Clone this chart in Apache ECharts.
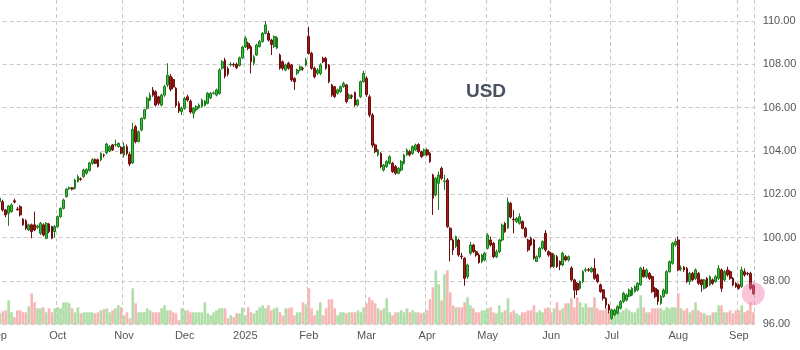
<!DOCTYPE html>
<html><head><meta charset="utf-8">
<script src="https://cdn.jsdelivr.net/npm/echarts@6/dist/echarts.min.js"></script>
<style>html,body{margin:0;padding:0;background:#fff}#c{width:800px;height:350px}</style>
</head><body><div id="c"></div>
<script>
// ---- categories: trading days (weekdays, market holidays removed) ----
const startDate = '2024-09-02';
const endDate = '2025-09-08';
const holidays = ['2024-12-25', '2025-01-01', '2025-04-18'];
const monthNames = ['Jan','Feb','Mar','Apr','May','Jun','Jul','Aug','Sep','Oct','Nov','Dec'];
const yTicks = [96, 98, 100, 102, 104, 106, 108, 110];
const titleText = 'USD';

// ---- series values (index order = trading days) ----
const openP = [
101.60,101.66,101.66,101.28,101.12,101.20,101.70,101.32,101.43,100.85,
100.78,100.35,100.59,100.59,100.48,100.20,100.59,99.97,100.63,100.51,
100.28,100.51,100.97,101.35,101.89,102.26,102.30,102.28,102.58,102.72,
102.82,102.98,103.10,103.43,103.60,103.60,103.59,103.82,103.92,104.00,
104.28,104.28,104.20,104.17,103.82,104.20,103.85,103.45,105.12,104.43,
104.97,105.50,105.97,106.35,106.82,106.73,106.50,106.12,106.58,107.05,
107.45,107.30,106.90,106.20,105.82,105.97,106.50,106.30,105.74,105.90,
106.00,106.05,106.10,106.20,106.45,106.66,106.58,106.66,107.82,108.20,
107.80,107.97,108.00,108.00,107.95,108.30,108.80,108.97,108.81,108.05,
108.43,108.82,109.05,109.43,109.43,109.12,108.82,108.75,108.43,108.12,
107.74,108.05,107.97,107.35,107.59,107.74,107.82,107.97,109.28,108.51,
107.82,107.59,107.58,108.28,108.28,107.97,107.05,106.97,106.66,106.74,
106.97,107.05,106.43,106.55,106.70,106.12,106.51,107.20,107.35,106.50,
105.66,104.28,103.82,103.89,103.12,103.28,103.43,103.43,103.28,102.97,
103.12,103.43,103.82,103.97,103.89,104.05,104.30,103.97,103.82,104.05,
103.89,102.89,101.97,102.51,103.20,102.58,102.66,100.43,99.89,99.60,
99.89,99.15,99.05,98.20,99.28,99.66,99.35,99.20,98.89,98.97,
99.51,99.89,99.74,99.12,99.35,99.89,100.66,100.45,101.58,100.85,
100.74,100.66,100.74,100.43,99.89,99.97,99.89,98.90,99.12,99.51,
100.20,99.35,99.28,98.67,99.12,98.90,98.74,99.12,98.97,98.60,
98.05,97.89,97.66,97.97,98.50,98.52,98.43,98.58,98.28,97.82,
97.59,97.20,96.89,96.28,96.43,96.51,96.74,97.05,97.12,97.30,
97.35,97.51,97.58,97.82,98.51,98.20,98.35,98.20,97.66,97.58,
96.97,97.28,97.43,98.43,98.82,99.66,99.89,98.55,98.63,98.58,
97.97,98.35,98.12,98.35,98.05,97.66,98.12,97.82,98.05,97.98,
98.12,98.51,98.05,98.51,98.43,98.12,97.89,97.82,97.74,98.43,
98.35,98.35,97.80];
const closeP = [
101.75,101.82,101.28,101.05,101.46,101.51,101.64,101.28,101.05,100.59,
100.43,100.59,100.28,100.35,100.54,100.66,100.12,100.66,100.28,99.97,
100.51,100.97,101.35,101.74,102.23,102.30,102.24,102.66,102.82,102.69,
103.12,103.14,103.45,103.60,103.43,103.28,103.89,103.80,104.32,104.20,
104.05,104.30,104.35,103.90,104.23,103.88,103.40,105.00,104.43,104.89,
105.50,105.90,106.43,106.58,106.58,106.12,106.20,106.58,106.97,107.50,
106.85,106.95,106.10,105.85,105.97,106.43,106.35,105.80,105.97,106.05,
106.12,106.35,106.30,106.66,106.66,106.68,106.82,107.74,108.12,107.45,
107.55,108.00,107.97,107.85,108.30,108.80,109.20,108.74,108.12,108.35,
108.89,109.05,109.43,109.82,109.12,108.92,109.28,109.23,107.82,107.82,
107.97,107.82,107.28,107.20,107.74,107.89,107.80,108.20,108.50,107.82,
107.43,107.74,107.97,108.12,107.82,107.20,106.58,106.51,106.82,106.97,
107.12,106.28,106.58,106.51,106.12,106.35,107.20,107.58,106.60,105.66,
104.27,103.97,104.05,103.28,103.35,103.51,103.74,103.05,102.97,103.20,
103.51,103.82,104.05,103.82,104.20,104.28,103.97,103.74,104.05,103.82,
103.51,101.82,102.74,102.89,102.74,102.62,100.51,99.90,99.43,100.05,
99.20,99.12,98.12,98.74,99.66,99.35,99.20,98.85,99.20,99.28,
100.12,99.66,99.12,99.35,99.89,100.58,100.28,101.66,100.95,100.82,
100.89,100.97,100.43,100.05,99.43,99.66,99.05,99.12,99.51,99.82,
99.43,99.20,98.67,99.20,98.67,98.74,99.28,98.97,99.12,98.05,
97.58,97.58,97.97,98.43,98.52,98.50,98.58,98.12,97.97,97.51,
97.20,96.89,96.66,96.66,96.66,96.82,97.05,97.43,97.35,97.58,
97.66,97.74,97.89,98.59,98.20,98.51,98.12,97.51,97.28,97.05,
97.28,97.58,98.43,98.89,99.74,99.82,98.51,98.60,98.51,97.97,
98.35,98.05,98.51,97.89,97.82,98.05,97.74,98.20,97.89,98.20,
98.58,97.66,98.43,98.28,98.12,97.82,97.74,97.66,98.51,98.28,
98.33,97.66,97.41];
const lowP = [
101.50,101.60,101.20,100.95,100.54,101.15,101.58,101.26,100.98,100.55,
100.35,100.30,99.97,100.30,100.40,100.12,100.05,99.93,100.20,99.93,
100.00,100.45,100.92,101.30,101.85,102.20,102.18,102.22,102.55,102.62,
102.76,102.90,103.05,103.36,103.40,103.24,103.52,103.70,103.85,103.95,
104.00,104.20,104.15,103.85,103.70,103.80,103.30,103.40,104.35,104.40,
104.90,105.45,105.90,106.30,106.50,106.05,106.10,106.05,106.50,106.95,
106.75,106.85,106.00,105.75,105.66,105.90,106.28,105.72,105.50,105.82,
105.95,106.00,106.05,106.15,106.40,106.60,106.52,106.60,107.75,107.35,
107.45,107.90,107.88,107.78,107.90,108.25,108.75,108.65,107.58,107.95,
108.38,108.78,109.00,109.38,109.05,108.43,108.75,108.70,107.75,107.72,
107.68,107.75,107.20,106.82,107.50,107.68,107.70,107.90,108.45,107.75,
107.35,107.50,107.50,108.05,107.75,107.12,106.50,106.45,106.60,106.68,
106.92,106.20,106.38,106.40,106.05,106.05,106.45,107.15,106.50,105.55,
104.15,103.90,103.75,103.20,103.05,103.22,103.38,102.98,102.90,102.92,
103.05,103.38,103.76,103.75,103.82,104.00,103.90,103.68,103.76,103.76,
103.45,101.05,101.90,101.28,102.65,102.20,100.45,98.90,99.20,99.52,
99.12,99.00,97.78,98.10,99.20,99.28,99.12,98.80,98.82,98.90,
99.45,99.58,99.05,99.05,99.28,99.82,100.22,100.40,100.88,100.20,
100.68,100.60,100.38,99.98,99.35,99.60,98.98,98.88,99.05,99.45,
99.35,99.12,98.60,98.60,98.60,98.50,98.68,98.90,98.90,97.98,
97.20,97.35,97.60,97.90,98.40,98.42,98.38,98.05,97.90,97.45,
97.10,96.74,96.51,96.20,96.38,96.45,96.68,96.98,97.05,97.25,
97.30,97.45,97.52,97.78,98.15,98.12,98.05,97.45,97.20,96.90,
96.90,97.22,97.38,98.38,98.75,99.58,98.45,98.45,98.42,97.90,
97.82,97.98,98.05,97.82,97.50,97.60,97.68,97.76,97.82,97.92,
98.05,97.50,97.98,98.20,98.05,97.75,97.68,97.60,97.68,98.20,
98.25,97.58,97.35];
const highP = [
101.85,101.90,101.75,101.32,101.50,101.58,101.80,101.42,101.50,100.90,
100.85,100.65,100.65,101.20,100.60,100.72,100.66,100.72,100.68,100.55,
100.58,101.02,101.40,101.80,102.30,102.36,102.34,102.72,102.90,102.78,
103.18,103.20,103.50,103.66,103.66,103.65,103.94,103.88,104.38,104.28,
104.32,104.52,104.40,104.22,104.40,104.30,103.95,105.30,105.20,104.95,
105.55,105.95,106.50,106.70,106.95,106.80,106.55,106.65,107.05,108.05,
107.55,107.40,106.95,106.30,106.05,106.50,106.60,106.38,106.02,106.12,
106.20,106.42,106.36,106.72,106.72,106.75,106.88,107.82,108.20,108.30,
107.90,108.10,108.08,108.08,108.36,108.86,109.30,109.05,108.88,108.42,
108.95,109.12,109.50,110.00,109.55,109.18,109.34,109.30,108.50,108.18,
108.03,108.12,108.02,107.40,107.80,107.95,107.88,108.30,109.74,108.58,
107.90,107.82,108.05,108.35,108.35,108.02,107.10,107.00,106.88,107.02,
107.20,107.10,106.65,106.62,106.75,106.40,107.25,107.70,107.45,106.60,
105.75,104.35,104.10,103.95,103.40,103.58,103.80,103.50,103.35,103.26,
103.58,103.88,104.12,104.05,104.26,104.34,104.36,104.02,104.12,104.12,
103.95,102.95,102.80,103.05,103.28,102.90,102.75,100.50,99.95,100.10,
99.95,99.30,99.10,98.80,99.80,99.72,99.42,99.28,99.25,99.35,
100.20,100.05,99.80,99.45,99.95,100.65,100.72,101.85,101.65,101.28,
100.95,101.12,100.80,100.50,99.95,100.05,99.95,99.18,99.58,99.88,
100.35,99.42,99.35,99.28,99.20,98.95,99.35,99.20,99.18,98.68,
98.10,97.95,98.02,98.50,98.62,98.60,98.65,99.05,98.35,97.88,
97.62,97.25,96.95,96.72,96.72,96.88,97.12,97.50,97.42,97.65,
97.72,97.80,97.95,98.65,98.66,98.58,98.42,98.26,97.72,97.62,
97.35,97.65,98.50,98.95,99.80,99.95,100.05,98.72,98.70,98.65,
98.42,98.42,98.58,98.42,98.10,98.10,98.18,98.26,98.12,98.28,
98.74,98.58,98.50,98.66,98.50,98.18,97.95,97.88,98.66,98.58,
98.42,98.42,97.85];
const volume = [
110,110,130,140,240,120,70,140,140,120,
120,180,310,220,160,160,170,120,160,120,
160,170,160,220,220,210,160,120,170,110,
120,120,120,120,110,120,140,150,160,120,
140,160,190,170,90,120,60,360,210,120,
120,120,160,140,120,120,120,160,190,140,
140,120,110,40,160,140,140,120,120,120,
120,120,220,110,90,120,140,160,160,160,
60,90,70,110,110,170,90,170,120,110,
140,170,190,160,190,140,160,170,120,90,
160,160,170,90,120,120,220,200,360,160,
90,140,220,90,160,250,250,160,90,120,
120,110,120,120,120,140,120,170,210,270,
240,210,160,140,160,260,120,90,120,120,
140,120,160,120,140,120,120,110,120,140,
250,370,540,400,240,500,540,320,190,170,
170,170,220,270,190,160,120,120,140,140,
160,170,120,110,190,120,140,260,120,140,
110,90,120,120,140,140,190,120,140,120,
160,170,120,160,220,140,160,210,210,260,
170,270,220,170,210,170,170,270,160,140,
140,170,120,120,110,140,120,140,160,140,
120,120,160,290,170,120,120,160,160,160,
160,140,170,160,170,170,310,160,140,160,
120,140,220,140,120,110,90,90,120,120,
190,190,120,120,140,110,140,140,190,120,
140,220,120];

// ---- build categories ----
function tradingDays(s, e, skip) {
  const out = [];
  const [sy, sm, sd] = s.split('-').map(Number);
  const [ey, em, ed] = e.split('-').map(Number);
  let t = Date.UTC(sy, sm - 1, sd);
  const stop = Date.UTC(ey, em - 1, ed);
  while (t <= stop) {
    const d = new Date(t);
    const wd = d.getUTCDay();
    const iso = d.toISOString().slice(0, 10);
    if (wd !== 0 && wd !== 6 && skip.indexOf(iso) < 0) out.push(iso);
    t += 86400000;
  }
  return out;
}
const dates = tradingDays(startDate, endDate, holidays);
const last = dates.length - 1;

function isMonthStart(i) {
  return i === 0 || dates[i].slice(0, 7) !== dates[i - 1].slice(0, 7);
}
function monthLabel(v) {
  const m = parseInt(v.slice(5, 7), 10);
  return m === 1 ? v.slice(0, 4) : monthNames[m - 1];
}

const candles = dates.map((d, i) => [openP[i], closeP[i], lowP[i], highP[i]]);
const volData = dates.map((d, i) => ({
  value: volume[i],
  itemStyle: { color: closeP[i] >= openP[i] ? '#b0dea8' : '#f6b7b7' }
}));

const FONT = '"Liberation Sans", Arial, sans-serif';
const chart = echarts.init(document.getElementById('c'), null, { renderer: 'canvas' });
chart.setOption({
  animation: false,
  backgroundColor: '#ffffff',
  textStyle: { fontFamily: FONT },
  grid: { left: -4.35, right: 45.3, top: 0, bottom: 25.7, containLabel: false, outerBoundsMode: 'none' },
  xAxis: {
    type: 'category',
    data: dates,
    boundaryGap: true,
    axisLine: { show: false },
    axisTick: { show: false },
    axisLabel: {
      interval: (i) => isMonthStart(i),
      formatter: monthLabel,
      color: '#555',
      fontSize: 11,
      margin: 6,
      hideOverlap: false,
      fontFamily: FONT
    },
    splitLine: {
      show: true,
      interval: (i) => isMonthStart(i),
      lineStyle: { color: '#c8c8c8', type: [4, 3], width: 1 }
    }
  },
  yAxis: [
    {
      type: 'value',
      position: 'right',
      min: yTicks[0],
      max: 110.97,
      interval: 2,
      axisLine: { show: false },
      axisTick: { show: false },
      axisLabel: {
        formatter: (v) => v.toFixed(2),
        color: '#555',
        fontSize: 11,
        margin: 8,
        showMaxLabel: false,
        fontFamily: FONT
      },
      splitLine: { show: true, showMaxLine: false, lineStyle: { color: '#c8c8c8', type: [4, 3], width: 1 } }
    },
    {
      type: 'value',
      min: 0,
      max: 3243,
      show: false,
      splitLine: { show: false }
    }
  ],
  series: [
    {
      type: 'bar',
      name: 'volume',
      xAxisIndex: 0,
      yAxisIndex: 1,
      data: volData,
      barWidth: '92%',
      z: 1,
      silent: true
    },
    {
      type: 'candlestick',
      name: 'USD',
      xAxisIndex: 0,
      yAxisIndex: 0,
      data: candles,
      barWidth: '78%',
      z: 3,
      itemStyle: {
        color: '#35c435',
        color0: '#a31818',
        borderColor: '#1d7a1d',
        borderColor0: '#6e0f0f',
        borderWidth: 1
      },
      markLine: {
        silent: true,
        symbol: 'none',
        data: [{ yAxis: closeP[last] }],
        lineStyle: { opacity: 0 },
        label: {
          show: true,
          position: 'end',
          distance: 6,
          formatter: (p) => Number(p.value).toFixed(2),
          backgroundColor: '#f3f300',
          color: '#222',
          fontWeight: 'bold',
          fontSize: 11,
          padding: [1, 1, 0, 1],
          fontFamily: FONT
        }
      }
    },
    {
      type: 'scatter',
      xAxisIndex: 0,
      yAxisIndex: 0,
      data: [[dates[last], closeP[last]]],
      symbolSize: 23,
      z: 5,
      silent: true,
      itemStyle: { color: 'rgba(242,120,170,0.55)' }
    }
  ],
  graphic: [
    {
      type: 'text',
      x: 486,
      y: 92,
      z: 10,
      style: {
        text: titleText,
        font: 'bold 19px ' + FONT,
        fill: '#4b5262',
        align: 'center',
        verticalAlign: 'middle'
      }
    }
  ]
});
</script>
</body></html>
